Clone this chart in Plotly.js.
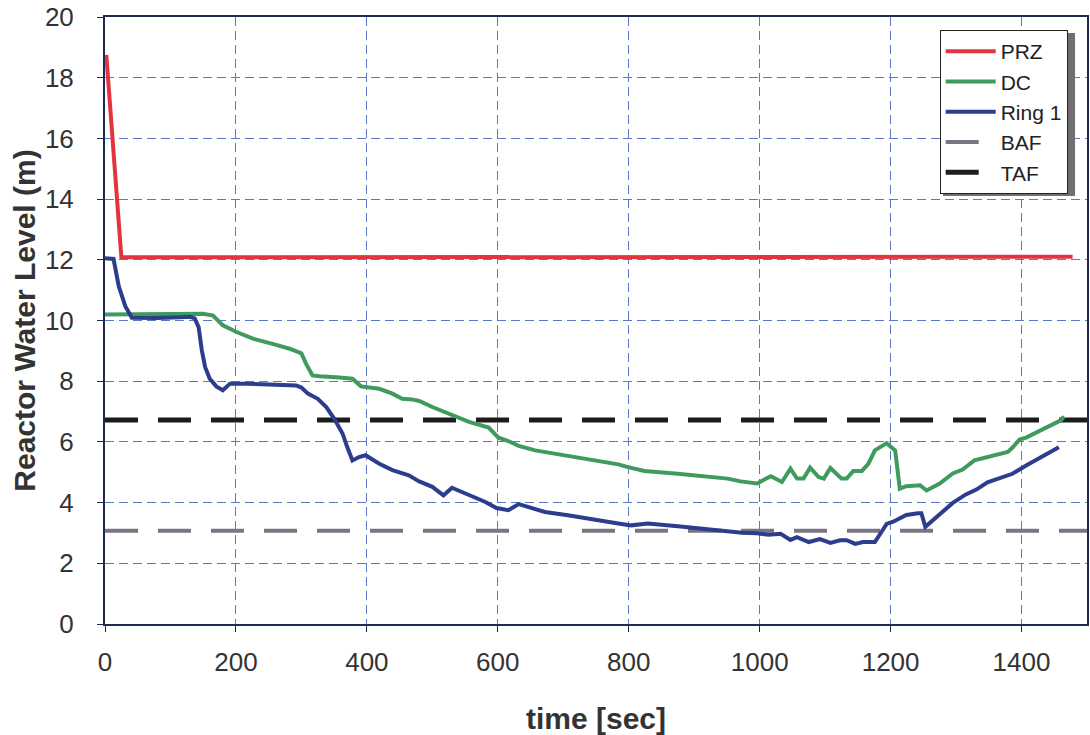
<!DOCTYPE html>
<html>
<head>
<meta charset="utf-8">
<script src="https://cdn.plot.ly/plotly-3.0.1.min.js"></script>
<style>
  html, body { margin: 0; padding: 0; background: #ffffff; }
  #chart { width: 1090px; height: 735px; }
</style>
</head>
<body>
<div id="chart"></div>
<script>
// ---- data ----
const seriesNames = ["PRZ", "DC", "Ring 1", "BAF", "TAF"];

const przTime  = [2, 25, 1478];
const przLevel = [18.75, 12.08, 12.1];

const dcTime  = [0, 50, 100, 150, 165, 180, 201, 226, 256, 282, 300, 307, 317, 328, 358, 378, 391, 401, 419, 439,
                 454, 469, 480, 500, 530, 556, 586, 594, 601, 616, 632, 657, 692, 733, 784, 799, 824, 875, 900, 925,
                 951, 971, 996, 1017, 1034, 1047, 1057, 1067, 1077, 1090, 1098, 1108, 1125, 1133, 1143, 1156, 1166, 1176, 1194, 1207,
                 1214, 1224, 1245, 1255, 1275, 1295, 1310, 1328, 1356, 1379, 1387, 1397, 1407, 1427, 1447, 1460, 1465];
const dcLevel = [10.2, 10.2, 10.21, 10.22, 10.16, 9.84, 9.62, 9.40, 9.23, 9.07, 8.92, 8.58, 8.19, 8.16, 8.12, 8.08, 7.83, 7.79, 7.75, 7.59,
                 7.42, 7.40, 7.35, 7.15, 6.88, 6.66, 6.47, 6.28, 6.14, 6.03, 5.87, 5.72, 5.59, 5.43, 5.26, 5.17, 5.04, 4.95, 4.90, 4.83,
                 4.79, 4.70, 4.63, 4.87, 4.68, 5.12, 4.79, 4.79, 5.15, 4.84, 4.79, 5.14, 4.79, 4.79, 5.04, 5.04, 5.28, 5.72, 5.96, 5.72,
                 4.46, 4.54, 4.57, 4.40, 4.63, 4.96, 5.09, 5.39, 5.53, 5.67, 5.83, 6.08, 6.14, 6.36, 6.55, 6.71, 6.84];

const ringTime  = [0, 13, 21, 31, 41, 79, 115, 130, 137, 143, 148, 153, 160, 170, 180, 191, 216, 292, 300, 310,
                   325, 338, 350, 363, 370, 378, 388, 398, 419, 439, 464, 480, 500, 517, 530, 556, 581, 598, 616, 632,
                   647, 672, 707, 748, 784, 804, 829, 875, 905, 940, 973, 996, 1014, 1032, 1047, 1057, 1075, 1092, 1108, 1123,
                   1133, 1146, 1158, 1176, 1194, 1204, 1224, 1242, 1247, 1253, 1275, 1295, 1315, 1331, 1348, 1366, 1386, 1407, 1432, 1457];
const ringLevel = [12.05, 12.03, 11.13, 10.47, 10.09, 10.08, 10.11, 10.12, 10.07, 9.78, 9.01, 8.46, 8.08, 7.83, 7.70, 7.92, 7.92, 7.86, 7.79, 7.59,
                   7.42, 7.15, 6.77, 6.27, 5.83, 5.39, 5.50, 5.56, 5.28, 5.07, 4.90, 4.70, 4.52, 4.24, 4.49, 4.24, 4.02, 3.82, 3.75, 3.95,
                   3.86, 3.69, 3.58, 3.42, 3.31, 3.25, 3.31, 3.22, 3.15, 3.09, 3.01, 2.99, 2.94, 2.97, 2.77, 2.86, 2.70, 2.80, 2.67, 2.76,
                   2.76, 2.64, 2.70, 2.70, 3.30, 3.37, 3.59, 3.65, 3.65, 3.20, 3.61, 3.99, 4.27, 4.43, 4.67, 4.79, 4.95, 5.22, 5.51, 5.82];

const refTime  = [0, 1500];
const bafLevel = [3.07, 3.07];
const tafLevel = [6.72, 6.72];

const xTickVals = [0, 200, 400, 600, 800, 1000, 1200, 1400];
const yTickVals = [0, 2, 4, 6, 8, 10, 12, 14, 16, 18, 20];

// ---- styling ----
const FONT = '"Liberation Sans", Arial, Helvetica, sans-serif';
const AXIS_COLOR = '#1f2a55';
const GRID_COLOR = '#5a7ac8';

const traces = [
  { x: refTime, y: bafLevel, name: seriesNames[3], mode: 'lines', legendrank: 4,
    line: { color: '#7c7483', width: 4, dash: '33px,20px' } },
  { x: refTime, y: tafLevel, name: seriesNames[4], mode: 'lines', legendrank: 5,
    line: { color: '#1c1c1c', width: 5, dash: '33px,20px' } },
  { x: przTime, y: przLevel, name: seriesNames[0], mode: 'lines', legendrank: 1,
    line: { color: '#e2343f', width: 4 } },
  { x: dcTime, y: dcLevel, name: seriesNames[1], mode: 'lines', legendrank: 2,
    line: { color: '#3f9a5e', width: 4 } },
  { x: ringTime, y: ringLevel, name: seriesNames[2], mode: 'lines', legendrank: 3,
    line: { color: '#2c3d8e', width: 4 } }
];

const layout = {
  width: 1090, height: 735,
  margin: { l: 105, r: 3, t: 17, b: 111 },
  paper_bgcolor: '#ffffff', plot_bgcolor: '#ffffff',
  font: { family: FONT, color: '#333333' },
  showlegend: true,
  legend: {
    x: 0.850, y: 0.9786, xanchor: 'left', yanchor: 'top',
    bgcolor: '#ffffff', bordercolor: '#222222', borderwidth: 1,
    font: { family: FONT, size: 21, color: '#222222' },
    itemwidth: 50, tracegroupgap: 0
  },
  // soft drop shadow behind the legend box
  shapes: [{
    type: 'rect', xref: 'paper', yref: 'paper', layer: 'above',
    x0: 0.8534, x1: 0.9878, y0: 0.7051, y1: 0.9736,
    fillcolor: '#707070', line: { width: 0 }
  }],
  xaxis: {
    range: [0, 1500], tickvals: xTickVals, ticks: 'outside', ticklen: 6, tickwidth: 1, tickcolor: AXIS_COLOR,
    showline: true, linecolor: AXIS_COLOR, linewidth: 2, mirror: true,
    showgrid: true, gridcolor: GRID_COLOR, gridwidth: 1, griddash: '9px,5px', zeroline: false,
    tickfont: { family: FONT, size: 26, color: '#333333' }, ticklabelstandoff: 8,
    title: { text: 'time [sec]', font: { family: FONT, size: 30, color: '#333333', weight: 'bold' }, standoff: 33 }
  },
  yaxis: {
    range: [0, 20], tickvals: yTickVals, ticks: 'outside', ticklen: 6, tickwidth: 1, tickcolor: AXIS_COLOR,
    showline: true, linecolor: AXIS_COLOR, linewidth: 2, mirror: true,
    showgrid: true, gridcolor: GRID_COLOR, gridwidth: 1, griddash: '9px,5px', zeroline: false,
    tickfont: { family: FONT, size: 26, color: '#333333' }, ticklabelstandoff: 18,
    title: { text: 'Reactor Water Level (m)', font: { family: FONT, size: 30, color: '#333333', weight: 'bold' }, standoff: 0 }
  }
};

Plotly.newPlot('chart', traces, layout, { staticPlot: true, displayModeBar: false });
</script>
</body>
</html>
